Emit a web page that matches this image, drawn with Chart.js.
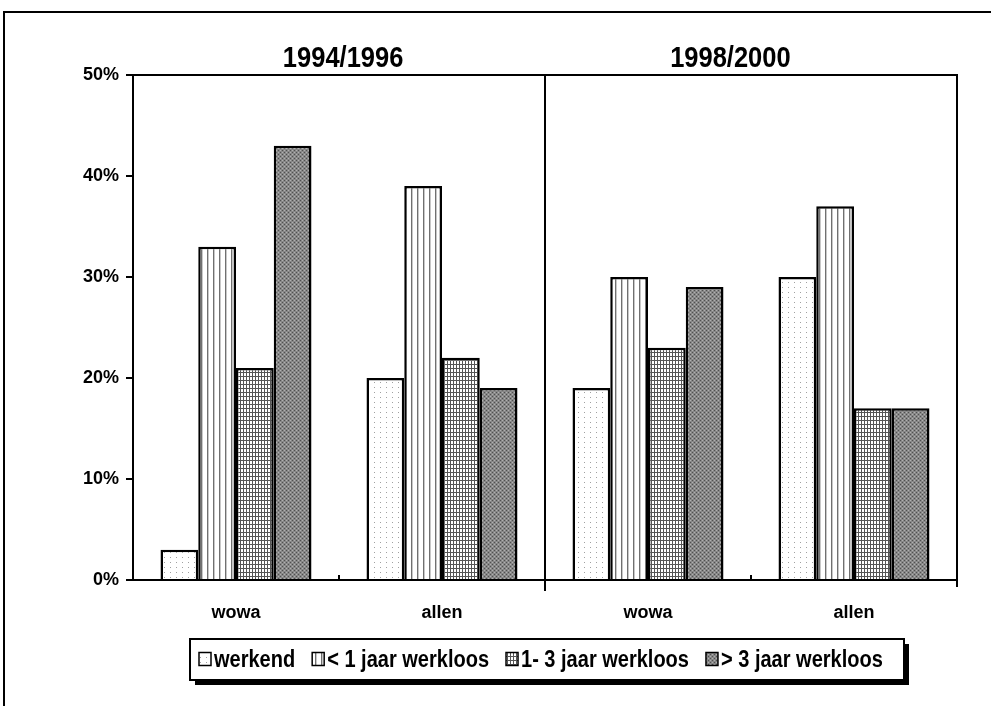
<!DOCTYPE html>
<html>
<head>
<meta charset="utf-8">
<script src="https://cdn.jsdelivr.net/npm/chart.js@4.4.1/dist/chart.umd.min.js"></script>
<style>
  html, body { margin: 0; padding: 0; background: #fff; }
  #wrap { width: 991px; height: 706px; }
</style>
</head>
<body>
<div id="wrap"><canvas id="chart"></canvas></div>
<script>
// data (percentages)
const categories = ["wowa", "allen", "wowa", "allen"]
const periods = ["1994/1996", "1998/2000"]
const seriesLabels = ["werkend", "< 1 jaar werkloos", "1- 3 jaar werkloos", "> 3 jaar werkloos"]
const werkend = [3, 20, 19, 30]
const korterDanJaar = [33, 39, 30, 37]
const eenTotDrieJaar = [21, 22, 23, 17]
const langerDanDrieJaar = [43, 19, 29, 17]
const yTicks = [0, 10, 20, 30, 40, 50]

const FONT = "'Liberation Sans', Arial, sans-serif"
const NARROW = 0.85 // horizontal squeeze to mimic the condensed face

function makePattern(w, h, paint) {
  const c = document.createElement("canvas")
  c.width = w
  c.height = h
  const g = c.getContext("2d")
  paint(g)
  return g.createPattern(c, "repeat")
}

const dots = makePattern(6, 5, g => {
  g.fillStyle = "#fff"; g.fillRect(0, 0, 6, 5)
  g.fillStyle = "#a0a0a0"; g.fillRect(2, 2, 1, 1)
})
const vlines = makePattern(6, 1, g => {
  g.fillStyle = "#fff"; g.fillRect(0, 0, 6, 1)
  g.fillStyle = "#707070"; g.fillRect(3, 0, 1, 1)
  g.fillStyle = "#c8c8c8"; g.fillRect(4, 0, 1, 1)
})
const grid = makePattern(3, 4, g => {
  g.fillStyle = "#fff"; g.fillRect(0, 0, 3, 4)
  g.fillStyle = "#555"; g.fillRect(0, 0, 1, 4); g.fillRect(0, 0, 3, 1)
})
const dark = makePattern(4, 4, g => {
  g.fillStyle = "#878787"; g.fillRect(0, 0, 4, 4)
  g.fillStyle = "#505050"; g.fillRect(0, 0, 1, 1); g.fillRect(2, 2, 1, 1)
  g.fillStyle = "#b0b0b0"; g.fillRect(2, 0, 1, 1); g.fillRect(0, 2, 1, 1)
})

const fills = [dots, vlines, grid, dark]
const values = [werkend, korterDanJaar, eenTotDrieJaar, langerDanDrieJaar]

function narrowText(ctx, text, x, y, sx) {
  ctx.save()
  ctx.translate(x, y)
  ctx.scale(sx, 1)
  ctx.fillText(text, 0, 0)
  ctx.restore()
}

// frame, panel divider, titles and the boxed legend
const decorations = {
  id: "decorations",
  afterDraw(chart) {
    const ctx = chart.ctx
    const a = chart.chartArea
    const x = chart.scales.x
    const bound = i => (x.getPixelForValue(i) + x.getPixelForValue(i + 1)) / 2
    ctx.save()
    ctx.strokeStyle = "#000"
    ctx.lineWidth = 2
    ctx.beginPath()
    // outer frame
    ctx.moveTo(4, 706); ctx.lineTo(4, 12); ctx.lineTo(991, 12)
    // plot box top and right
    ctx.moveTo(a.left, a.top); ctx.lineTo(a.right, a.top); ctx.lineTo(a.right, a.bottom + 7)
    // divider between the two periods
    ctx.moveTo(bound(1), a.top); ctx.lineTo(bound(1), a.bottom + 11)
    // small inward ticks
    ctx.moveTo(bound(0), a.bottom); ctx.lineTo(bound(0), a.bottom - 5)
    ctx.moveTo(bound(2), a.bottom); ctx.lineTo(bound(2), a.bottom - 5)
    ctx.stroke()

    // period titles
    ctx.fillStyle = "#000"
    ctx.font = "bold 30px " + FONT
    ctx.textAlign = "center"
    ctx.textBaseline = "alphabetic"
    narrowText(ctx, periods[0], x.getPixelForValue(0.52), 67, NARROW)
    narrowText(ctx, periods[1], x.getPixelForValue(2.4), 67, NARROW)

    // legend
    const lx = 190, ly = 639, lw = 714, lh = 41
    const sx = 0.87
    ctx.fillStyle = "#000"
    ctx.fillRect(lx + 5, ly + 5, lw, lh)
    ctx.fillStyle = "#fff"
    ctx.fillRect(lx, ly, lw, lh)
    ctx.strokeRect(lx, ly, lw, lh)
    ctx.font = "bold 23px " + FONT
    ctx.textAlign = "left"
    ctx.textBaseline = "middle"
    let cx = lx + 9
    const cy = ly + lh / 2
    chart.data.datasets.forEach(ds => {
      ctx.fillStyle = ds.backgroundColor
      ctx.fillRect(cx, cy - 7, 12, 13)
      ctx.lineWidth = 1.5
      ctx.strokeRect(cx, cy - 7, 12, 13)
      cx += 15
      ctx.fillStyle = "#000"
      narrowText(ctx, ds.label, cx, cy + 1, sx)
      cx += ctx.measureText(ds.label).width * sx + 17
    })
    ctx.restore()
  }
}

new Chart(document.getElementById("chart"), {
  type: "bar",
  data: {
    labels: categories,
    datasets: seriesLabels.map((label, i) => ({
      label: label,
      data: values[i],
      backgroundColor: fills[i],
      borderColor: "#000",
      borderWidth: 2.5,
      barPercentage: 1,
      categoryPercentage: 0.733,
    })),
  },
  options: {
    responsive: true,
    maintainAspectRatio: false,
    animation: false,
    layout: { padding: { left: 0, right: 34, top: 75, bottom: 76 } },
    plugins: {
      legend: { display: false },
      tooltip: { enabled: false },
    },
    scales: {
      x: {
        afterFit: s => { s.height = 50 },
        ticks: { color: "#000", font: { family: FONT, size: 18, weight: "bold" }, padding: 22 },
        grid: { display: false, drawTicks: false },
        border: { color: "#000", width: 2 },
      },
      y: {
        min: 0,
        max: 50,
        afterFit: s => { s.width = 133 },
        afterBuildTicks: s => { s.ticks = yTicks.map(v => ({ value: v })) },
        ticks: {
          color: "#000",
          font: { family: FONT, size: 18, weight: "bold" },
          padding: 7,
          callback: v => v + "%",
        },
        grid: { drawOnChartArea: false, drawTicks: true, tickLength: 7, color: "#000", lineWidth: 2 },
        border: { color: "#000", width: 2 },
      },
    },
  },
  plugins: [decorations],
})
</script>
</body>
</html>
